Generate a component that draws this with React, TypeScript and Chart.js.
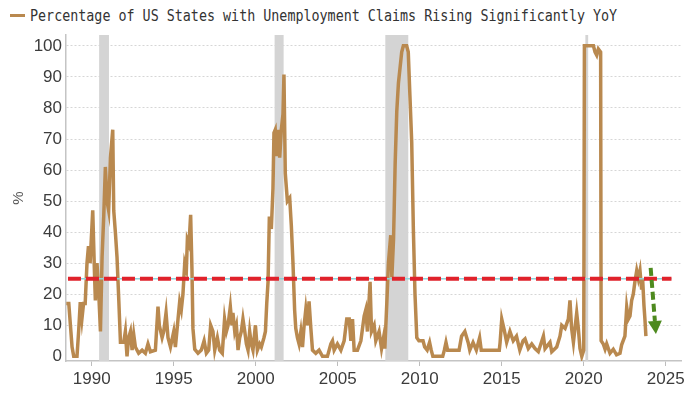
import React, { useEffect, useRef } from "react";
import { Chart, registerables } from "chart.js";

Chart.register(...registerables);

const seriesLabel = "Percentage of US States with Unemployment Claims Rising Significantly YoY";

const years = [
  1988.45, 1988.6, 1988.7, 1988.8, 1988.9, 1989.1, 1989.2, 1989.3, 1989.4, 1989.5, 1989.6, 1989.71, 1989.8, 1989.9,
  1990.06, 1990.16, 1990.22, 1990.32, 1990.43, 1990.53, 1990.63, 1990.73, 1990.83, 1990.93, 1991.03, 1991.14, 1991.28,
  1991.34, 1991.44, 1991.54, 1991.65, 1991.75, 1991.95, 1992.05, 1992.15, 1992.25, 1992.36, 1992.46, 1992.56, 1992.66,
  1992.86, 1993.07, 1993.27, 1993.43, 1993.58, 1993.88, 1994.04, 1994.12, 1994.29, 1994.39, 1994.53, 1994.65, 1994.8,
  1995.0, 1995.1, 1995.26, 1995.36, 1995.46, 1995.56, 1995.67, 1995.77, 1995.83, 1995.93, 1996.03, 1996.11, 1996.17,
  1996.28, 1996.48, 1996.68, 1996.85, 1996.99, 1997.13, 1997.25, 1997.39, 1997.5, 1997.66, 1997.8, 1997.96, 1998.1,
  1998.21, 1998.31, 1998.45, 1998.55, 1998.61, 1998.72, 1998.82, 1998.92, 1999.02, 1999.12, 1999.22, 1999.33, 1999.43,
  1999.53, 1999.63, 1999.73, 1999.83, 1999.98, 2000.1, 2000.24, 2000.34, 2000.5, 2000.59, 2000.67, 2000.75, 2000.83,
  2000.95, 2001.05, 2001.11, 2001.19, 2001.3, 2001.4, 2001.46, 2001.56, 2001.66, 2001.72, 2001.8, 2001.93, 2002.07,
  2002.17, 2002.27, 2002.37, 2002.44, 2002.54, 2002.64, 2002.75, 2002.85, 2002.95, 2003.05, 2003.15, 2003.25, 2003.36,
  2003.46, 2003.66, 2003.86, 2004.07, 2004.37, 2004.58, 2004.68, 2004.78, 2004.98, 2005.19, 2005.39, 2005.55, 2005.7,
  2005.8, 2005.9, 2006.0, 2006.2, 2006.41, 2006.61, 2006.71, 2006.81, 2006.97, 2007.06, 2007.22, 2007.32, 2007.52,
  2007.67, 2007.79, 2007.87, 2007.99, 2008.09, 2008.23, 2008.3, 2008.4, 2008.44, 2008.5, 2008.6, 2008.7, 2008.8,
  2008.9, 2009.0, 2009.2, 2009.3, 2009.4, 2009.51, 2009.61, 2009.71, 2009.82, 2009.95, 2010.2, 2010.3, 2010.45,
  2010.6, 2010.7, 2010.8, 2011.4, 2011.5, 2011.6, 2011.7, 2012.0, 2012.4, 2012.55, 2012.75, 2012.95, 2013.05, 2013.25,
  2013.45, 2013.65, 2013.75, 2014.0, 2014.85, 2014.9, 2015.0, 2015.15, 2015.3, 2015.5, 2015.7, 2015.9, 2016.1, 2016.3,
  2016.42, 2016.62, 2016.83, 2017.03, 2017.23, 2017.54, 2017.64, 2017.94, 2018.05, 2018.35, 2018.55, 2018.66, 2018.86,
  2019.06, 2019.16, 2019.26, 2019.37, 2019.57, 2019.67, 2019.77, 2019.88, 2020.0, 2020.04, 2020.59, 2020.69, 2020.79,
  2020.89, 2021.03, 2021.06, 2021.19, 2021.3, 2021.4, 2021.6, 2021.8, 2022.0, 2022.21, 2022.31, 2022.51, 2022.62,
  2022.72, 2022.82, 2022.92, 2023.02, 2023.12, 2023.23, 2023.33, 2023.43, 2023.53, 2023.59, 2023.67, 2023.73, 2023.79,
];

const values = [
  17, 17, 10, 3, 0, 0, 8, 17.5, 12, 17, 17, 30, 35.5, 30,
  47, 28, 18, 30, 20, 8, 32, 45, 61, 50, 47, 64, 73,
  47, 40, 32, 18, 4.5, 4.5, 8, 0, 6, 8, 2, 7, 3,
  1, 2, 1, 4, 1.5, 2, 16, 10, 6, 8, 14, 6, 3,
  8, 3, 12, 17.5, 15, 20, 30, 28, 37.5, 36, 45.6, 28, 9,
  2.3, 1, 2, 5, 1, 2, 10, 8, 2, 6, 2, 1, 12,
  8, 10, 16, 10, 14, 8, 10, 2, 6, 8, 12, 8, 4,
  2, 8, 4, 2, 10, 2, 4, 3, 6, 8, 17, 24, 45,
  41, 54, 72, 73, 64.5, 73, 64, 73, 78, 90.8, 59, 50, 51,
  42, 30, 15, 9, 6, 4, 8, 3, 10, 15, 10, 17.7, 9,
  2, 1, 2, 0, 0, 4, 5, 2, 4, 2, 5, 12, 12,
  5, 12, 2, 2, 5, 13, 15, 8, 24, 8, 10, 5, 8,
  2.5, 6, 2.5, 17, 30, 39, 25.5, 37.5, 47, 62, 79, 88, 93,
  98, 100, 100, 98, 84, 69, 41, 20, 6, 5, 5, 3, 2,
  4.5, 2, 0, 0, 2, 4.5, 2, 2, 2, 6.5, 8, 4.5, 2, 4.5,
  2, 6, 2, 2, 2, 4.5, 12, 8.5, 4.5, 8, 5, 6.5, 2, 5,
  5.6, 2.5, 4, 2.5, 1.5, 6.5, 2.5, 4.5, 1.5, 3, 6.5, 10, 9,
  12, 18, 9, 4.5, 14, 9, 2.5, 0, 2, 100, 100, 98, 97,
  99, 98, 5, 4, 2.3, 4, 1, 2.3, 0.5, 1, 3.7, 6.5, 15.8,
  12, 13, 18, 20, 24, 27.6, 25, 27.6, 21.5, 25, 16.5, 12, 6.5,
];

const xTickValues = [1990, 1995, 2000, 2005, 2010, 2015, 2020, 2025];
const yTickValues = [0, 10, 20, 30, 40, 50, 60, 70, 80, 90, 100];

const recessionStarts = [1990.45, 2001.15, 2007.9, 2020.1];
const recessionEnds = [1991.05, 2001.7, 2009.3, 2020.27];

const thresholdLevel = 25;
const thresholdSpan = [1988.55, 2025.35];

const arrowStart = [2024.08, 28.5];
const arrowEnd = [2024.4, 7.2];

const LINE_COLOR = "#b9894f";

const overlayPlugin = {
  id: "overlay",
  beforeDatasetsDraw(chart: any) {
    const { ctx, chartArea: a, scales } = chart;
    const x = scales.x;
    ctx.save();
    ctx.fillStyle = "#d4d4d4";
    recessionStarts.forEach((s, i) => {
      const x0 = x.getPixelForValue(s);
      const x1 = x.getPixelForValue(recessionEnds[i]);
      ctx.fillRect(x0, a.top, Math.max(x1 - x0, 2), a.bottom - a.top);
    });
    ctx.restore();
  },
  afterDatasetsDraw(chart: any) {
    const { ctx, scales } = chart;
    const x = scales.x;
    const y = scales.y;
    const ty = y.getPixelForValue(thresholdLevel);
    const tx0 = x.getPixelForValue(thresholdSpan[0]);
    const tx1 = x.getPixelForValue(thresholdSpan[1]);
    ctx.save();
    ctx.strokeStyle = "#8fd3dc";
    ctx.lineWidth = 1.5;
    ctx.beginPath();
    ctx.moveTo(tx0, ty);
    ctx.lineTo(tx1, ty);
    ctx.stroke();
    ctx.strokeStyle = "#e0222b";
    ctx.lineWidth = 4;
    ctx.setLineDash([13, 5]);
    ctx.beginPath();
    ctx.moveTo(tx0, ty);
    ctx.lineTo(tx1, ty);
    ctx.stroke();

    // arrow
    const p0x = x.getPixelForValue(arrowStart[0]);
    const p0y = y.getPixelForValue(arrowStart[1]);
    const p1x = x.getPixelForValue(arrowEnd[0]);
    const p1y = y.getPixelForValue(arrowEnd[1]);
    const dx = p1x - p0x;
    const dy = p1y - p0y;
    const len = Math.sqrt(dx * dx + dy * dy);
    const ux = dx / len;
    const uy = dy / len;
    const head = 13;
    const half = 7;
    const bx = p1x - ux * head;
    const by = p1y - uy * head;
    ctx.strokeStyle = "#4e8a1f";
    ctx.fillStyle = "#4e8a1f";
    ctx.lineWidth = 4;
    ctx.setLineDash([8, 4]);
    ctx.beginPath();
    ctx.moveTo(p0x, p0y);
    ctx.lineTo(bx, by);
    ctx.stroke();
    ctx.setLineDash([]);
    ctx.beginPath();
    ctx.moveTo(p1x, p1y);
    ctx.lineTo(bx - uy * half, by + ux * half);
    ctx.lineTo(bx + uy * half, by - ux * half);
    ctx.closePath();
    ctx.fill();
    ctx.restore();
  },
};

export default function App() {
  const canvasRef = useRef<HTMLCanvasElement | null>(null);

  useEffect(() => {
    if (!canvasRef.current) return;
    const points = years.map((yr, i) => ({ x: yr, y: values[i] }));
    const chart = new Chart(canvasRef.current, {
      type: "line",
      data: {
        datasets: [
          {
            label: seriesLabel,
            data: points,
            borderColor: LINE_COLOR,
            backgroundColor: LINE_COLOR,
            borderWidth: 3.5,
            pointRadius: 0,
            tension: 0,
          },
        ],
      },
      options: {
        animation: false,
        responsive: true,
        maintainAspectRatio: false,
        layout: { padding: { top: 35, right: 19, left: 0, bottom: 0 } },
        plugins: { legend: { display: false }, tooltip: { enabled: false } },
        scales: {
          x: {
            type: "linear",
            min: 1988.43,
            max: 2025.93,
            afterBuildTicks: (scale: any) => {
              scale.ticks = xTickValues.map((v) => ({ value: v }));
            },
            afterFit: (scale: any) => {
              scale.height = 33;
            },
            grid: {
              drawOnChartArea: false,
              drawTicks: true,
              tickLength: 5,
              color: "#bdbdbd",
            },
            border: { display: true, color: "#c4c4c4", width: 1.5 },
            ticks: {
              autoSkip: false,
              maxRotation: 0,
              padding: 3,
              color: "#3c3c3c",
              font: { family: "'Liberation Sans', Arial, sans-serif", size: 17 },
              callback: (v: any) => String(v),
            },
          },
          y: {
            min: -1.5,
            max: 103.5,
            afterBuildTicks: (scale: any) => {
              scale.ticks = yTickValues.map((v) => ({ value: v }));
            },
            afterFit: (scale: any) => {
              scale.width = 66;
            },
            grid: {
              drawTicks: false,
              color: (c: any) => (c.tick && c.tick.value === 0 ? "rgba(0,0,0,0)" : "#d6d6d6"),
              lineWidth: 1,
            },
            border: { display: true, color: "#c4c4c4", width: 1.5, dash: [2, 2] },
            title: {
              display: true,
              text: "%",
              color: "#555555",
              font: { family: "'Liberation Sans', Arial, sans-serif", size: 15 },
              padding: { top: 10, bottom: 0 },
            },
            ticks: {
              padding: 4,
              color: "#3c3c3c",
              font: { family: "'Liberation Sans', Arial, sans-serif", size: 17 },
              callback: (v: any) => String(v),
            },
          },
        },
      },
      plugins: [overlayPlugin],
    });
    return () => chart.destroy();
  }, []);

  return (
    <div style={{ position: "absolute", left: 0, top: 0, width: 700, height: 394, background: "#ffffff" }}>
      <div
        style={{
          position: "absolute",
          left: 10,
          top: 6,
          display: "flex",
          alignItems: "center",
          whiteSpace: "nowrap",
        }}
      >
        <span style={{ display: "inline-block", width: 15, height: 3, background: LINE_COLOR, marginRight: 5 }} />
        <span
          style={{
            fontFamily: "'DejaVu Sans Mono', monospace",
            fontSize: 16,
            color: "#333333",
            display: "inline-block",
            transform: "scaleX(0.835)",
            transformOrigin: "left center",
          }}
        >
          {seriesLabel}
        </span>
      </div>
      <div style={{ position: "absolute", left: 0, top: 0, width: 700, height: 394 }}>
        <canvas ref={canvasRef} />
      </div>
    </div>
  );
}
